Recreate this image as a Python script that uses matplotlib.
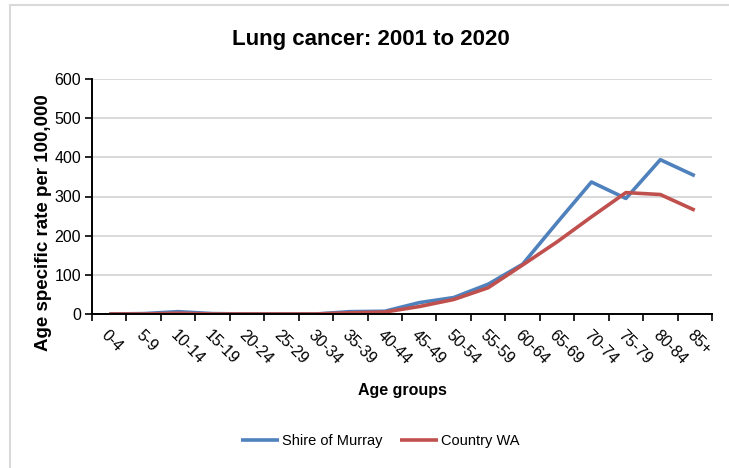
import matplotlib.pyplot as plt
from matplotlib.patches import Rectangle

plt.rcParams['font.family'] = ['Liberation Sans', 'DejaVu Sans']

AGE_GROUPS = ["0-4", "5-9", "10-14", "15-19", "20-24", "25-29", "30-34", "35-39", "40-44",
              "45-49", "50-54", "55-59", "60-64", "65-69", "70-74", "75-79", "80-84", "85+"]
MURRAY = [0, 1, 6, 1, 0, 0, 0, 6, 7, 29, 42, 76, 127, 233, 337, 295, 394, 353]
COUNTRY_WA = [0, 0, 2, 0, 0, 0, 0, 3, 5, 19, 37, 67, 125, 184, 248, 310, 305, 265]

fig = plt.figure(figsize=(7.29, 4.68), dpi=100)
fig.patches.append(Rectangle((10 / 729, -0.1), 1.2, (468 - 5) / 468 + 0.1, transform=fig.transFigure,
                             fill=False, edgecolor='#d9d9d9', linewidth=1.5))
ax = fig.add_axes([92 / 729, 1 - 314 / 468, 620 / 729, 235 / 468])

x = range(len(AGE_GROUPS))
ax.plot(x, MURRAY, color='#4f81bd', linewidth=2.6, label='Shire of Murray', solid_capstyle='butt')
ax.plot(x, COUNTRY_WA, color='#c0504d', linewidth=2.6, label='Country WA', solid_capstyle='butt')

ax.set_xlim(-0.5, len(AGE_GROUPS) - 0.5)
ax.set_ylim(0, 600)
ax.set_yticks(range(0, 601, 100))
ax.yaxis.grid(True, color='#d9d9d9', linewidth=1.4)
ax.set_axisbelow(True)

ax.set_xticks([i - 0.5 for i in range(len(AGE_GROUPS) + 1)])
ax.set_xticklabels([])
ax.set_xticks(list(x), minor=True)
ax.set_xticklabels(AGE_GROUPS, minor=True, rotation=-45, ha='left', va='top',
                   rotation_mode='anchor', fontsize=11.5)
ax.tick_params(axis='x', which='minor', length=0, pad=10)
ax.tick_params(axis='x', which='major', length=5, width=1.2, direction='out')
ax.tick_params(axis='y', length=5, width=1.2, direction='out', labelsize=11.5, pad=3)

for s in ('top', 'right'):
    ax.spines[s].set_visible(False)
for s in ('left', 'bottom'):
    ax.spines[s].set_linewidth(1.4)

fig.text(371 / 729, 1 - 40 / 468, 'Lung cancer: 2001 to 2020', ha='center', va='center',
         fontsize=16, fontweight='bold')
fig.text(402 / 729, 1 - 391 / 468, 'Age groups', ha='center', va='center',
         fontsize=11.5, fontweight='bold')
fig.text(44 / 729, 1 - 223 / 468, 'Age specific rate per 100,000', ha='center', va='center',
         rotation=90, fontsize=13.5, fontweight='bold')

fig.legend(loc='center', bbox_to_anchor=(380 / 729, 1 - 441 / 468), ncol=2, frameon=False,
           fontsize=10.5, handlelength=2.6, handletextpad=0.2, columnspacing=1.2)

fig.savefig('out.png', dpi=100)
